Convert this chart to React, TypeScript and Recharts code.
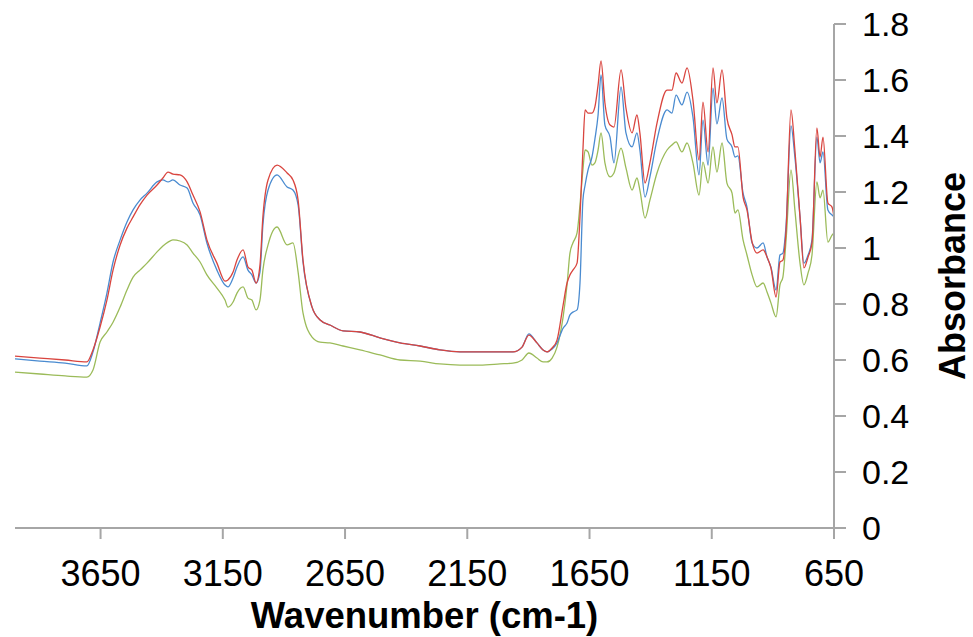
import React from 'react';
import { LineChart, Line, XAxis, YAxis } from 'recharts';

// wavenumber grid (cm-1), descending as in the spectrum
const wavenumbers = [
  4000, 3898, 3795, 3706, 3681, 3652, 3624, 3599, 3570, 3542,
  3517, 3489, 3460, 3419, 3395, 3374, 3354, 3325, 3296, 3272,
  3243, 3215, 3174, 3141, 3129, 3108, 3092, 3067, 3047, 3031,
  3014, 2998, 2986, 2965, 2928, 2887, 2863, 2842, 2822, 2785,
  2752, 2712, 2658, 2589, 2507, 2425, 2343, 2262, 2180, 2098,
  2016, 1963, 1926, 1898, 1865, 1840, 1824, 1803, 1783, 1758,
  1742, 1730, 1718, 1701, 1689, 1677, 1668, 1656, 1640, 1628,
  1615, 1603, 1587, 1566, 1550, 1521, 1501, 1476, 1456, 1444,
  1423, 1403, 1374, 1333, 1313, 1296, 1272, 1251, 1227, 1202,
  1186, 1165, 1145, 1129, 1108, 1088, 1067, 1055, 1043, 1022,
  1006, 985, 965, 940, 924, 908, 887, 871, 859, 846,
  826, 810, 789, 773, 756, 740, 720, 707, 695, 675,
  658, 650,
];

const redSeries = [
  0.614, 0.607, 0.600, 0.593, 0.636, 0.718, 0.814, 0.921, 1.011, 1.071,
  1.111, 1.154, 1.189, 1.225, 1.250, 1.271, 1.264, 1.261, 1.236, 1.189,
  1.129, 1.029, 0.946, 0.882, 0.886, 0.914, 0.957, 0.993, 0.932, 0.921,
  0.875, 0.939, 1.111, 1.243, 1.296, 1.268, 1.243, 1.171, 0.957, 0.789,
  0.743, 0.725, 0.704, 0.700, 0.679, 0.661, 0.650, 0.636, 0.629, 0.629,
  0.629, 0.629, 0.646, 0.689, 0.661, 0.636, 0.629, 0.643, 0.671, 0.796,
  0.875, 0.904, 0.921, 0.946, 1.111, 1.350, 1.493, 1.482, 1.482, 1.504,
  1.582, 1.668, 1.518, 1.439, 1.432, 1.636, 1.500, 1.411, 1.475, 1.411,
  1.232, 1.304, 1.446, 1.564, 1.564, 1.625, 1.589, 1.643, 1.529, 1.314,
  1.521, 1.343, 1.643, 1.518, 1.636, 1.464, 1.404, 1.361, 1.361, 1.182,
  1.136, 1.021, 0.982, 0.993, 0.968, 0.929, 0.825, 0.950, 0.957, 1.064,
  1.493, 1.350, 1.111, 0.929, 0.968, 1.018, 1.429, 1.325, 1.396, 1.161,
  1.146, 1.111,
];

const blueSeries = [
  0.604, 0.596, 0.589, 0.579, 0.629, 0.732, 0.839, 0.950, 1.029, 1.093,
  1.136, 1.171, 1.196, 1.236, 1.243, 1.236, 1.243, 1.225, 1.214, 1.161,
  1.118, 1.018, 0.921, 0.868, 0.861, 0.893, 0.932, 0.968, 0.921, 0.904,
  0.875, 0.914, 1.082, 1.207, 1.261, 1.218, 1.207, 1.154, 0.950, 0.789,
  0.743, 0.725, 0.704, 0.700, 0.679, 0.661, 0.650, 0.636, 0.629, 0.629,
  0.629, 0.629, 0.646, 0.693, 0.661, 0.636, 0.629, 0.639, 0.661, 0.714,
  0.732, 0.761, 0.771, 0.779, 0.875, 1.171, 1.225, 1.279, 1.325, 1.389,
  1.475, 1.618, 1.439, 1.396, 1.304, 1.575, 1.411, 1.361, 1.411, 1.350,
  1.182, 1.254, 1.386, 1.493, 1.482, 1.546, 1.511, 1.557, 1.468, 1.261,
  1.457, 1.296, 1.571, 1.443, 1.536, 1.389, 1.361, 1.325, 1.329, 1.196,
  1.146, 1.018, 1.000, 1.018, 0.968, 0.932, 0.850, 0.975, 0.982, 1.082,
  1.436, 1.325, 1.111, 0.946, 0.975, 1.029, 1.396, 1.304, 1.343, 1.136,
  1.118, 1.111,
];

const greenSeries = [
  0.557, 0.550, 0.543, 0.539, 0.564, 0.664, 0.700, 0.735, 0.789, 0.850,
  0.896, 0.921, 0.946, 0.986, 1.007, 1.021, 1.029, 1.025, 1.011, 0.982,
  0.950, 0.904, 0.857, 0.814, 0.789, 0.807, 0.839, 0.861, 0.821, 0.814,
  0.779, 0.814, 0.921, 1.011, 1.075, 1.011, 1.018, 0.914, 0.768, 0.682,
  0.664, 0.661, 0.650, 0.636, 0.618, 0.600, 0.596, 0.586, 0.582, 0.582,
  0.586, 0.589, 0.600, 0.625, 0.607, 0.593, 0.593, 0.607, 0.646, 0.754,
  0.868, 0.982, 1.018, 1.054, 1.154, 1.279, 1.350, 1.343, 1.296, 1.304,
  1.350, 1.411, 1.304, 1.254, 1.268, 1.357, 1.286, 1.207, 1.250, 1.207,
  1.107, 1.171, 1.268, 1.350, 1.368, 1.379, 1.343, 1.375, 1.304, 1.189,
  1.307, 1.232, 1.361, 1.271, 1.375, 1.232, 1.196, 1.125, 1.136, 1.029,
  0.975, 0.904, 0.861, 0.875, 0.843, 0.804, 0.754, 0.868, 0.896, 1.029,
  1.279, 1.136, 0.946, 0.868, 0.911, 0.975, 1.236, 1.179, 1.207, 1.021,
  1.046, 1.054,
];

const xTicks = [3650, 3150, 2650, 2150, 1650, 1150, 650];
const yTicks = [0, 0.2, 0.4, 0.6, 0.8, 1, 1.2, 1.4, 1.6, 1.8];

const data = wavenumbers.map((wn, i) => ({
  wn,
  red: redSeries[i],
  blue: blueSeries[i],
  green: greenSeries[i],
}));

const FONT = '"Liberation Sans", Arial, sans-serif';
const AXIS_GREY = '#a6a6a6';

const XLabel = ({ viewBox }: any) => {
  const vb = viewBox || { x: 15, y: 528, width: 819, height: 109 };
  return (
    <text
      x={vb.x + vb.width / 2}
      y={vb.y + vb.height - 9}
      textAnchor="middle"
      fontFamily={FONT}
      fontSize={36.5}
      fontWeight="bold"
      fill="#000"
    >
      Wavenumber (cm-1)
    </text>
  );
};

const YLabel = ({ viewBox }: any) => {
  const vb = viewBox || { x: 834, y: 24, width: 139, height: 504 };
  const x = vb.x + vb.width - 8;
  const y = vb.y + vb.height / 2;
  return (
    <text
      x={x}
      y={y}
      transform={`rotate(-90, ${x}, ${y})`}
      textAnchor="middle"
      fontFamily={FONT}
      fontSize={36}
      fontWeight="bold"
      fill="#000"
    >
      Absorbance
    </text>
  );
};

export default function App() {
  return (
    <div style={{ position: 'absolute', left: 0, top: 0, background: '#fff' }}>
      <LineChart
        width={973}
        height={637}
        data={data}
        margin={{ top: 24, right: 0, bottom: 0, left: 15 }}
      >
        <XAxis
          dataKey="wn"
          type="number"
          domain={[650, 4000]}
          reversed
          ticks={xTicks}
          interval={0}
          height={109}
          tickSize={11}
          tickMargin={21}
          axisLine={{ stroke: AXIS_GREY, strokeWidth: 2 }}
          tickLine={{ stroke: AXIS_GREY, strokeWidth: 2 }}
          tick={{ fill: '#000', fontSize: 36, fontFamily: FONT }}
          label={<XLabel />}
        />
        <YAxis
          orientation="right"
          type="number"
          domain={[0, 1.8]}
          ticks={yTicks}
          interval={0}
          width={139}
          tickSize={12}
          tickMargin={16}
          axisLine={{ stroke: AXIS_GREY, strokeWidth: 2 }}
          tickLine={{ stroke: AXIS_GREY, strokeWidth: 2 }}
          tick={{ fill: '#000', fontSize: 34, fontFamily: FONT }}
          label={<YLabel />}
        />
        <Line dataKey="green" type="monotone" stroke="#9bbb59" strokeWidth={1.3} dot={false} isAnimationActive={false} />
        <Line dataKey="blue" type="monotone" stroke="#4a8bd0" strokeWidth={1.3} dot={false} isAnimationActive={false} />
        <Line dataKey="red" type="monotone" stroke="#d9453f" strokeWidth={1.3} dot={false} isAnimationActive={false} />
      </LineChart>
    </div>
  );
}
